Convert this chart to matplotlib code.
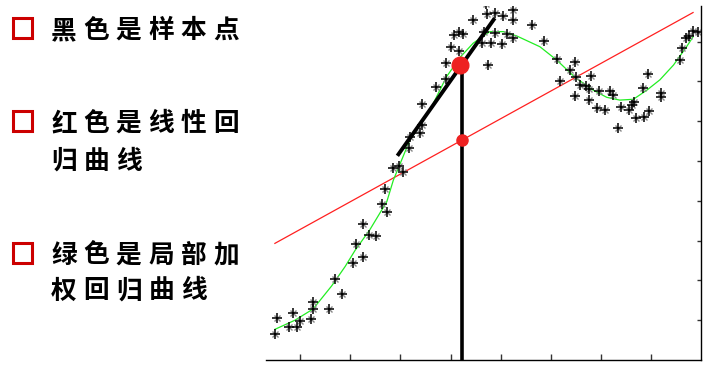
import matplotlib
matplotlib.use("Agg")
import matplotlib.pyplot as plt
import matplotlib.patches as mpatches

plt.rcParams['font.family'] = ['Noto Sans CJK SC', 'DejaVu Sans']

# sample points (black stars)
sample_x = [0.50, 0.54, 0.78, 0.87, 0.95, 1.00, 1.21, 1.25, 1.26, 1.58,
            1.69, 1.84, 2.06, 2.11, 2.25, 2.25, 2.37, 2.51, 2.64, 2.73,
            2.69, 2.85, 2.98, 3.06, 3.17, 3.19, 3.39, 3.44, 3.44, 3.71,
            3.91, 3.91, 4.00, 4.16, 4.07, 4.17, 4.25, 4.45, 4.63, 4.75,
            4.72, 4.71, 4.88, 5.05, 5.25, 5.24, 5.62, 4.67, 4.88, 4.80,
            5.02, 5.12, 5.25, 5.87, 6.11, 6.18, 6.38, 6.48, 6.49, 6.48,
            6.58, 6.70, 6.76, 6.79, 6.76, 6.91, 6.96, 7.08, 7.18, 7.23,
            7.33, 7.39, 7.55, 7.62, 7.65, 7.69, 7.84, 7.85, 7.93, 7.96,
            8.19, 8.19, 8.56, 8.60, 8.68, 8.75, 8.83, 8.93]
sample_y = [0.65, 1.06, 0.84, 1.19, 0.84, 0.99, 1.02, 1.46, 1.28, 1.28,
            2.04, 1.66, 2.43, 2.91, 2.58, 3.41, 3.14, 3.12, 3.92, 3.73,
            4.29, 4.83, 4.87, 4.73, 5.32, 5.61, 5.70, 5.90, 6.43, 6.85,
            7.06, 7.45, 7.87, 7.77, 8.17, 8.23, 8.18, 8.54, 7.97, 7.41,
            8.69, 8.95, 8.73, 8.65, 8.79, 8.53, 8.42, 8.23, 8.22, 7.97,
            7.94, 8.18, 8.08, 8.02, 7.56, 7.01, 7.29, 7.49, 7.10, 6.64,
            6.91, 6.88, 6.80, 7.14, 6.53, 6.32, 6.76, 6.28, 6.77, 6.66,
            5.82, 6.35, 6.28, 6.41, 6.49, 6.07, 6.84, 6.10, 7.18, 6.26,
            6.70, 6.62, 7.54, 7.83, 8.08, 8.14, 8.27, 8.25]

# locally weighted regression curve (green)
lwr_x = [0.50, 0.90, 1.26, 1.63, 1.90, 2.10, 2.39, 2.73, 2.86, 3.19,
         3.59, 3.92, 4.20, 4.45, 4.78, 5.05, 5.32, 5.78, 6.11, 6.48,
         6.84, 7.11, 7.37, 7.64, 7.91, 8.17, 8.44, 8.70, 8.83]
lwr_y = [0.77, 1.00, 1.28, 1.86, 2.35, 2.76, 3.27, 3.98, 4.52, 5.53,
         6.28, 7.12, 7.62, 7.96, 8.25, 8.25, 8.14, 7.87, 7.54, 7.10,
         6.78, 6.60, 6.53, 6.55, 6.78, 7.04, 7.41, 7.87, 8.12]

# linear regression line (red)
lin_x = [0.50, 8.83]
lin_y = [2.93, 8.73]

# query point, local tangent and the two predictions
query_x = 4.23
tangent_x = [2.94, 4.88]
tangent_y = [5.13, 8.59]
pred_lwr = 7.41
pred_lin = 5.53

notes = [
    ("黑色是样本点", 30.5, True),
    ("红色是线性回", 123.5, True),
    ("归曲线", 161.5, False),
    ("绿色是局部加", 255, True),
    ("权回归曲线", 291, False),
]

W, H = 725, 373
fig = plt.figure(figsize=(W / 100, H / 100), dpi=100)
ax = fig.add_axes([266 / W, 13 / H, 435 / W, 354 / H])

ax.plot(lin_x, lin_y, color='#ff2020', lw=0.9)
ax.plot(lwr_x, lwr_y, color='#22ee22', lw=0.9)
ax.plot(sample_x, sample_y, ls='none', marker='x', ms=5, mew=1.0, color='#888888')
ax.plot(sample_x, sample_y, ls='none', marker='+', ms=7.5, mew=1.1, color='black')
ax.plot(tangent_x, tangent_y, color='black', lw=2.8, solid_capstyle='butt')
ax.plot([query_x, query_x], [0, pred_lwr], color='black', lw=2.6, solid_capstyle='butt')
ax.plot(query_x - 0.04, pred_lwr, 'o', ms=12, color='#ee2222', mec='#ee2222')
ax.plot(query_x, pred_lin, 'o', ms=8, color='#ee2222', mec='#ee2222')

ax.set_xlim(0.323, 8.988)
ax.set_ylim(0, 8.894)
ax.set_xticks(range(1, 9))
ax.set_yticks(range(1, 9))
ax.set_xticklabels([])
ax.set_yticklabels([])
ax.spines['left'].set_visible(False)
ax.spines['top'].set_visible(False)
for s in ('bottom', 'right'):
    ax.spines[s].set_linewidth(1.0)
ax.yaxis.tick_right()
ax.tick_params(axis='x', direction='in', length=4.5, width=1, color='#333333')
ax.tick_params(axis='y', direction='in', length=3, width=1, color='#333333')

# left-hand notes with red square bullets
for text, yc, bullet in notes:
    if bullet:
        fig.patches.append(mpatches.Rectangle(
            (12.8 / W, 1 - (yc + 7.5) / H), 19.5 / W, 19.5 / H,
            transform=fig.transFigure, fill=False, ec='#cc0000', lw=2.2))
    for i, ch in enumerate(text):
        fig.text((64 + 32.4 * i) / W, 1 - yc / H, ch, fontsize=18.5,
                 fontweight='bold', ha='center', va='center', color='black')

fig.savefig('out.png', dpi=100)
